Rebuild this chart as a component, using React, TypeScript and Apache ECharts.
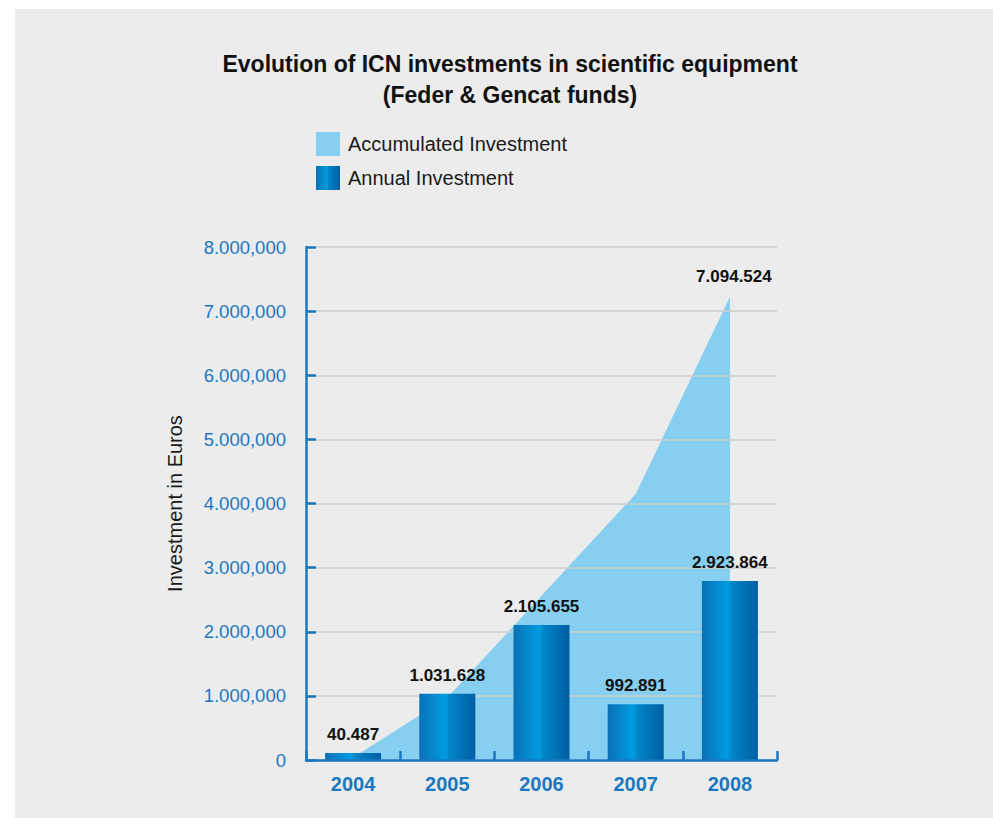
import React, { useEffect, useRef } from "react";
import * as echarts from "echarts";

const years = ["2004", "2005", "2006", "2007", "2008"];
const annualValues = [110000, 1031628, 2105655, 870000, 2790000];
const annualLabels = ["40.487", "1.031.628", "2.105.655", "992.891", "2.923.864"];
const accumulatedValues = [40487, 970000, 2560000, 4150000, 7220000];
const accumulatedLabels = ["", "", "", "", "7.094.524"];
const yTickLabels = [
  "0",
  "1.000,000",
  "2.000,000",
  "3.000,000",
  "4.000,000",
  "5.000,000",
  "6.000,000",
  "7.000,000",
  "8.000,000",
];

const FONT = '"Liberation Sans", Arial, Helvetica, sans-serif';
const BLUE = "#1a78c2";
const AREA = "#86cff0";

export default function App() {
  const ref = useRef<HTMLDivElement>(null);

  useEffect(() => {
    document.body.style.margin = "0";
    const chart = echarts.init(ref.current!, null, { renderer: "svg" });
    const barGradient = new echarts.graphic.LinearGradient(0, 0, 1, 0, [
      { offset: 0, color: "#0a70b6" },
      { offset: 0.45, color: "#009bdf" },
      { offset: 0.5, color: "#0094d6" },
      { offset: 0.52, color: "#0086c8" },
      { offset: 1, color: "#005ea4" },
    ]);
    chart.setOption({
      animation: false,
      backgroundColor: "#ffffff",
      textStyle: { fontFamily: FONT },
      graphic: [
        {
          type: "rect",
          left: 15,
          top: 9,
          z: -10,
          silent: true,
          shape: { width: 978, height: 809 },
          style: { fill: "#ebeceb" },
        },
      ],
      title: {
        text: "Evolution of ICN investments in scientific equipment\n(Feder & Gencat funds)",
        left: 505,
        top: 43,
        textAlign: "center",
        textStyle: {
          fontFamily: FONT,
          fontSize: 23,
          fontWeight: "bold",
          color: "#111111",
          lineHeight: 31,
        },
      },
      legend: {
        orient: "vertical",
        left: 316,
        top: 132,
        padding: 0,
        itemWidth: 24,
        itemHeight: 24,
        itemGap: 10,
        textStyle: {
          fontFamily: FONT,
          fontSize: 20,
          color: "#1a1a1a",
          padding: [0, 0, 0, 3],
        },
        data: [
          { name: "Accumulated Investment", icon: "rect" },
          { name: "Annual Investment", icon: "rect" },
        ],
      },
      grid: { left: 306, right: 216, top: 247, bottom: 58, containLabel: false },
      xAxis: {
        type: "category",
        data: years,
        boundaryGap: true,
        z: 3,
        axisLine: { lineStyle: { color: BLUE, width: 2.5 } },
        axisTick: { show: true, inside: true, length: 9, lineStyle: { color: BLUE, width: 2.5 } },
        axisLabel: {
          margin: 14,
          fontFamily: FONT,
          fontSize: 20,
          fontWeight: "bold",
          color: BLUE,
        },
      },
      yAxis: {
        type: "value",
        min: 0,
        max: 8000000,
        interval: 1000000,
        z: 1,
        name: "Investment in Euros",
        nameLocation: "middle",
        nameRotate: 90,
        nameGap: 121,
        nameTextStyle: { fontFamily: FONT, fontSize: 20, color: "#1a1a1a" },
        axisLine: { show: true, lineStyle: { color: BLUE, width: 2.5 } },
        axisTick: { show: true, inside: true, length: 10, lineStyle: { color: BLUE, width: 2.5 } },
        axisLabel: {
          margin: 20,
          fontFamily: FONT,
          fontSize: 18.5,
          color: BLUE,
          padding: [0, 0, 8, 0],
          formatter: (_v: number, i: number) => yTickLabels[i],
        },
        splitLine: { show: true, lineStyle: { color: "#cdcfcf", width: 1.5 } },
      },
      series: [
        {
          name: "Accumulated Investment",
          type: "line",
          z: 0,
          data: accumulatedValues.map((v, i) => ({
            value: v,
            label: { show: accumulatedLabels[i] !== "" },
          })),
          symbol: "circle",
          symbolSize: 0,
          showSymbol: true,
          itemStyle: { color: AREA },
          lineStyle: { width: 0, color: AREA },
          areaStyle: { color: AREA, opacity: 1 },
          label: {
            position: "top",
            distance: 12,
            offset: [4, 0],
            fontFamily: FONT,
            fontSize: 17,
            fontWeight: "bold",
            color: "#111111",
            formatter: (p: any) => accumulatedLabels[p.dataIndex],
          },
        },
        {
          name: "Annual Investment",
          type: "bar",
          z: 2,
          barWidth: 56,
          data: annualValues,
          itemStyle: { color: barGradient },
          label: {
            show: true,
            position: "top",
            distance: 10,
            fontFamily: FONT,
            fontSize: 17,
            fontWeight: "bold",
            color: "#111111",
            formatter: (p: any) => annualLabels[p.dataIndex],
          },
        },
      ],
    });
    return () => chart.dispose();
  }, []);

  return (
    <div
      ref={ref}
      style={{ position: "fixed", left: 0, top: 0, width: 993, height: 818 }}
    />
  );
}
